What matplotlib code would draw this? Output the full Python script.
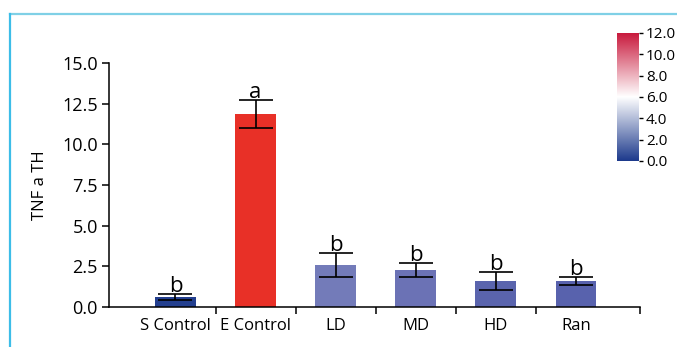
import matplotlib
matplotlib.use("Agg")
import matplotlib.pyplot as plt
import numpy as np
from matplotlib.colors import LinearSegmentedColormap, Normalize
from matplotlib.lines import Line2D

categories = ["S Control", "E Control", "LD", "MD", "HD", "Ran"]
means = [0.6, 11.85, 2.58, 2.27, 1.6, 1.6]
errors = [0.18, 0.85, 0.72, 0.41, 0.55, 0.24]
letters = ["b", "a", "b", "b", "b", "b"]
bar_colors = ["#233f8f", "#e83027", "#737bb9", "#6b72b5", "#5a64ad", "#5862ad"]
y_ticks = [0.0, 2.5, 5.0, 7.5, 10.0, 12.5, 15.0]
cbar_ticks = [0.0, 2.0, 4.0, 6.0, 8.0, 10.0, 12.0]
ylabel = "TNF a TH"

plt.rcParams['font.family'] = ['Open Sans', 'DejaVu Sans']

fig = plt.figure(figsize=(6.77, 3.47), dpi=100)

# decorative frame lines (top & left)
fig.add_artist(Line2D([10/677, 1.0], [1-14/347, 1-14/347], color="#7fd0e6", lw=1.6, transform=fig.transFigure))
fig.add_artist(Line2D([10/677, 10/677], [1-14/347, 0.0], color="#3cbde8", lw=1.6, transform=fig.transFigure))

ax = fig.add_axes([109/677, 1-307/347, (640-109)/677, (307-63)/347])
x = np.arange(len(categories))
ax.bar(x, means, width=0.51, color=bar_colors, zorder=2)
ax.errorbar(x, means, yerr=errors, fmt='none', ecolor='black', elinewidth=1.2,
            capsize=12, capthick=1.2, zorder=3)
for xi, m, e, l in zip(x, means, errors, letters):
    ax.annotate(l, (xi, m + e), xytext=(0, 1.5), textcoords='offset points',
                ha='center', va='baseline', fontsize=16)

ax.set_xlim(-0.83, 5.8)
ax.set_ylim(0, 15)
ax.set_yticks(y_ticks)
ax.set_yticklabels([f"{v:.1f}" for v in y_ticks], fontsize=13)
ax.set_xticks(list(np.arange(0.5, len(categories) - 0.5, 1.0)) + [5.8])
ax.set_xticklabels([])
ax.set_xticks(x, minor=True)
ax.set_xticklabels(categories, minor=True, fontsize=12)
ax.tick_params(axis='x', which='minor', length=0, pad=8)
ax.tick_params(axis='x', which='major', length=5, width=1.1, direction='out')
ax.tick_params(axis='y', length=5, width=1.1, direction='out', pad=3)
ax.set_ylabel(ylabel, fontsize=12, labelpad=10)
for s in ["top", "right"]:
    ax.spines[s].set_visible(False)
for s in ["left", "bottom"]:
    ax.spines[s].set_linewidth(1.1)

# colorbar
cmap = LinearSegmentedColormap.from_list("bwr_custom", ["#1d3a8c", "#ffffff", "#c8193c"])
cax = fig.add_axes([617/677, 1-161/347, 22/677, 128/347])
sm = plt.cm.ScalarMappable(norm=Normalize(0, 12), cmap=cmap)
cb = fig.colorbar(sm, cax=cax)
cb.outline.set_visible(False)
cb.set_ticks(cbar_ticks)
cb.set_ticklabels([f"{v:.1f}" for v in cbar_ticks])
cax.tick_params(labelsize=11, length=3, width=1, pad=2)

fig.savefig("out.png", dpi=100)
